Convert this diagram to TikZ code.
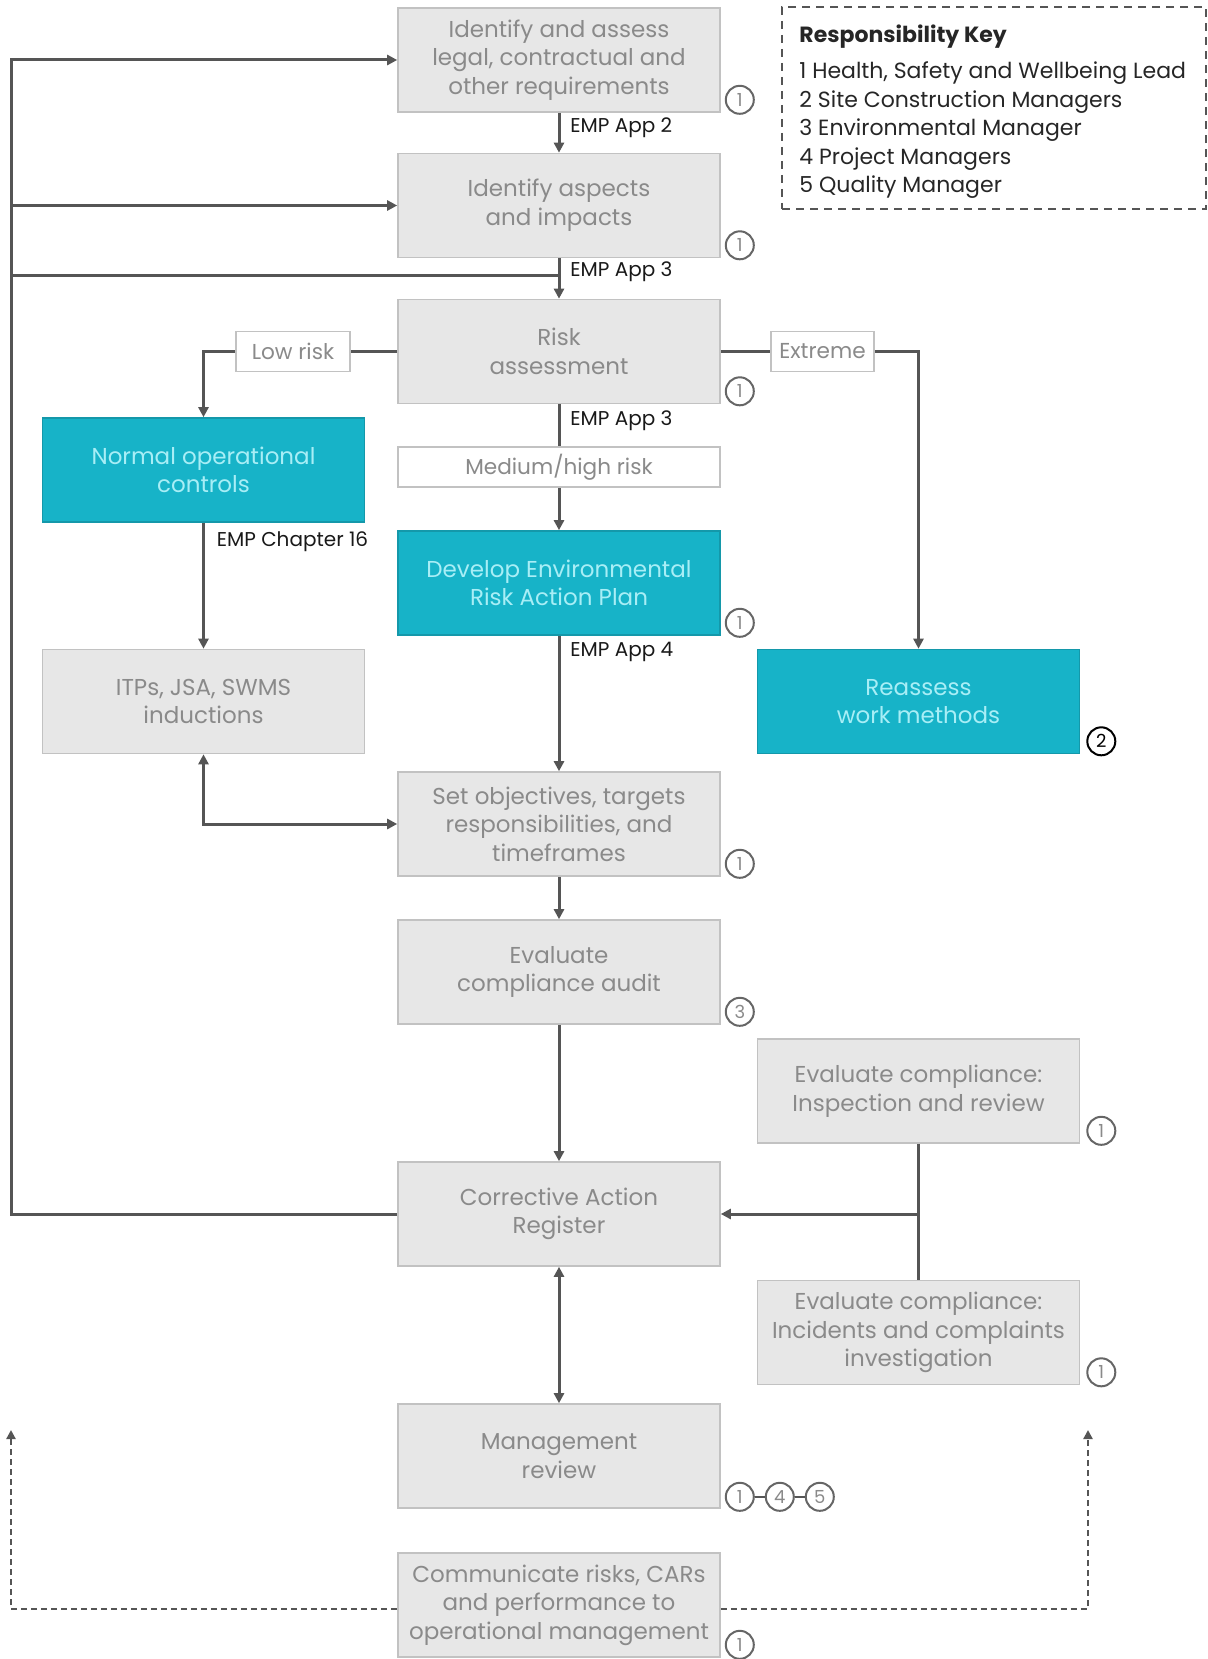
\documentclass[tikz,border=0pt]{standalone}
\usepackage{fontspec}
\setmainfont{Poppins}
\usetikzlibrary{arrows.meta,positioning}

\definecolor{boxfill}{HTML}{E7E7E7}
\definecolor{boxline}{HTML}{C2C2C2}
\definecolor{boxtext}{HTML}{8A8A8A}
\definecolor{tealfill}{HTML}{17B3C8}
\definecolor{tealtext}{HTML}{A8EEF6}
\definecolor{linegray}{HTML}{555555}

\newcommand{\boxfont}{\fontsize{11.5}{14.3}\selectfont}
\newcommand{\empfont}{\fontsize{10}{12}\selectfont}

\tikzset{
  graybox/.style={draw=boxline, line width=0.8pt, fill=boxfill, text=boxtext,
    minimum width=161pt, minimum height=52pt, inner sep=0pt, align=center, font=\boxfont},
  tealbox/.style={graybox, draw=tealfill!85!black, fill=tealfill, text=tealtext},
  tagbox/.style={graybox, fill=white, minimum height=20pt, font=\fontsize{10.8}{13}\selectfont},
  emp/.style={anchor=north west, inner sep=0pt, text=black!90, font=\empfont},
  badge/.style={circle, draw=linegray!90, line width=1pt, fill=white, minimum size=14pt,
    inner sep=0pt, text=boxtext, font=\fontsize{9}{9}\selectfont},
  keybox/.style={draw=linegray, line width=1pt, dash pattern=on 4pt off 3pt,
    minimum width=212pt, minimum height=101pt},
  keytext/.style={anchor=west, inner sep=0pt, align=left, text=black!85,
    font=\fontsize{11}{14.3}\selectfont},
  conn/.style={draw=linegray, line width=1.5pt},
  flow/.style={conn, -{Triangle[length=5pt,width=5pt]}},
  biflow/.style={conn, {Triangle[length=5pt,width=5pt]}-{Triangle[length=5pt,width=5pt]}},
  dashflow/.style={draw=linegray, line width=1.4pt, dash pattern=on 3pt off 2pt,
    -{Triangle[length=4.5pt,width=4.5pt]}}
}

\begin{document}
\begin{tikzpicture}[x=0.5pt,y=-0.5pt]
  \useasboundingbox (0,0) rectangle (1208,1659);

  % main column
  \node[graybox] (id) at (559,60) {Identify and assess\\legal, contractual and\\other requirements};
  \node[graybox] (asp) at (559,205.5) {Identify aspects\\and impacts};
  \node[graybox] (risk) at (559,351.5) {Risk\\assessment};
  \node[tagbox, minimum width=161pt] (med) at (559,467) {Medium/high risk};
  \node[tealbox] (dev) at (559,583) {Develop Environmental\\Risk Action Plan};
  \node[graybox] (set) at (559,824) {Set objectives, targets\\responsibilities, and\\timeframes};
  \node[graybox] (audit) at (559,972) {Evaluate\\compliance audit};
  \node[graybox] (car) at (559,1214) {Corrective Action\\Register};
  \node[graybox] (mgmt) at (559,1456) {Management\\review};
  \node[graybox] (comm) at (559,1605) {Communicate risks, CARs\\and performance to\\operational management};

  % side columns
  \node[tagbox, minimum width=57pt] (low) at (293,351.5) {Low risk};
  \node[tagbox, minimum width=51.5pt] (extreme) at (822.5,351.5) {Extreme};
  \node[tealbox] (normal) at (203.5,470) {Normal operational\\controls};
  \node[graybox] (itps) at (203.5,701.5) {ITPs, JSA, SWMS\\inductions};
  \node[tealbox] (reassess) at (918.5,701.5) {Reassess\\work methods};
  \node[graybox] (insp) at (918.5,1091) {Evaluate compliance:\\Inspection and review};
  \node[graybox] (inc) at (918.5,1332.5) {Evaluate compliance:\\Incidents and complaints\\investigation};

  % responsibility key
  \node[keybox] (key) at (994,108) {};
  \node[keytext] (keylist) at ([xshift=9pt,yshift=-2pt]key.west) {\textbf{Responsibility Key}\\[3.5pt]
    1 Health, Safety and Wellbeing Lead\\2 Site Construction Managers\\
    3 Environmental Manager\\4 Project Managers\\5 Quality Manager};

  % document references
  \node[emp] (emp2) at ([xshift=5.5pt,yshift=-2.5pt]id.south) {EMP App 2};
  \node[emp] (emp3) at ([xshift=5.5pt,yshift=-1.5pt]asp.south) {EMP App 3};
  \node[emp] (emp3r) at ([xshift=5.5pt,yshift=-3pt]risk.south) {EMP App 3};
  \node[emp] (emp4) at ([xshift=5.5pt,yshift=-3pt]dev.south) {EMP App 4};
  \node[emp] (emp16) at ([xshift=6.5pt,yshift=-4pt]normal.south) {EMP Chapter 16};

  % connectors
  \coordinate (fbx) at (11,0);
  \coordinate (join) at (559,275);
  \coordinate (upl) at (11,1430);
  \coordinate (upr) at (1088,1430);
  \draw[flow] (id) -- (asp);
  \draw[flow] (asp) -- (risk);
  \draw[flow] (car.west) -- (car.west -| fbx) |- (id.west);
  \draw[flow] (asp.west -| fbx) -- (asp.west);
  \draw[conn] (join -| fbx) -- (join);
  \draw[conn] (risk.west) -- (low.east);
  \draw[flow] (low.west) -| (normal.north);
  \draw[conn] (risk.east) -- (extreme.west);
  \draw[flow] (extreme.east) -| (reassess.north);
  \draw[conn] (risk) -- (med);
  \draw[flow] (med) -- (dev);
  \draw[flow] (dev) -- (set);
  \draw[flow] (normal) -- (itps);
  \draw[biflow] (itps.south) |- (set.west);
  \draw[flow] (set) -- (audit);
  \draw[flow] (audit) -- (car);
  \draw[conn] (insp) -- (inc);
  \draw[flow] (car.east -| insp.south) -- (car.east);
  \draw[biflow] (car) -- (mgmt);
  \draw[dashflow] ([yshift=-2pt]comm.west) -| (upl);
  \draw[dashflow] ([yshift=-2pt]comm.east) -| (upr);

  % responsibility badges
  \node[badge] (bid) at ([xshift=9.5pt,yshift=6.5pt]id.south east) {1};
  \node[badge] (basp) at ([xshift=9.5pt,yshift=6.5pt]asp.south east) {1};
  \node[badge] (brisk) at ([xshift=9.5pt,yshift=6.5pt]risk.south east) {1};
  \node[badge] (bdev) at ([xshift=9.5pt,yshift=6.5pt]dev.south east) {1};
  \node[badge, draw=black, text=black] (breassess) at ([xshift=10.5pt,yshift=6.5pt]reassess.south east) {2};
  \node[badge] (bset) at ([xshift=9.5pt,yshift=6.5pt]set.south east) {1};
  \node[badge] (baudit) at ([xshift=9.5pt,yshift=6.5pt]audit.south east) {3};
  \node[badge] (binsp) at ([xshift=10.5pt,yshift=6.5pt]insp.south east) {1};
  \node[badge] (binc) at ([xshift=10.5pt,yshift=6.5pt]inc.south east) {1};
  \node[badge] (bm1) at ([xshift=9.5pt,yshift=6pt]mgmt.south east) {1};
  \node[badge, right=5pt of bm1] (bm4) {4};
  \node[badge, right=5pt of bm4] (bm5) {5};
  \draw[draw=linegray, line width=1pt] (bm1) -- (bm4) -- (bm5);
  \node[badge] (bcomm) at ([xshift=9.5pt,yshift=6.5pt]comm.south east) {1};
\end{tikzpicture}
\end{document}
